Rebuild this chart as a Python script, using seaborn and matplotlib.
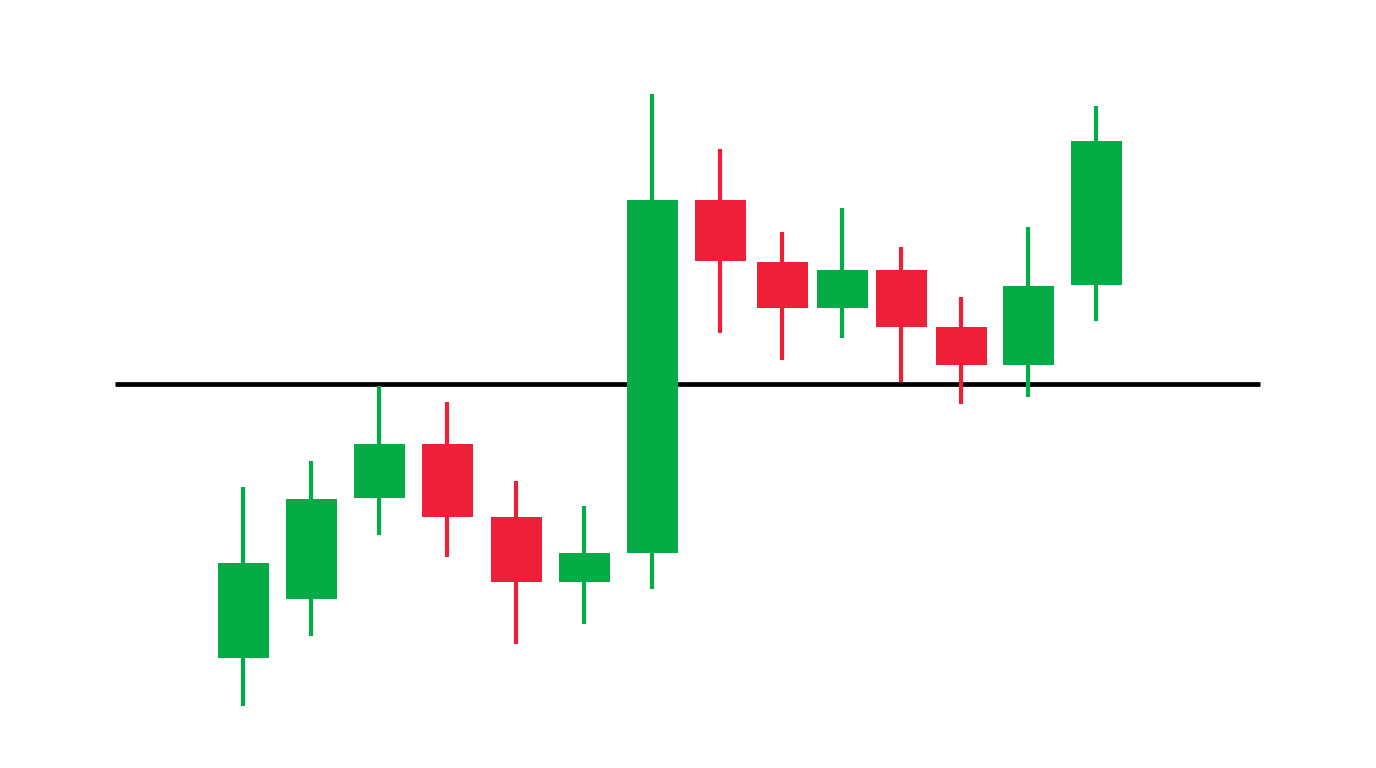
import matplotlib
matplotlib.use("Agg")
import matplotlib.pyplot as plt
import seaborn as sns
import pandas as pd

# Candle data (arbitrary price units, time slots)
slots = [243, 311, 379, 447, 516, 584, 652, 720, 782, 842, 901, 961, 1028, 1096]
opens = [110, 169, 270, 324, 251, 186, 215, 568, 506, 460, 498, 441, 403, 483]
closes = [205, 269, 324, 251, 186, 215, 568, 507, 460, 498, 441, 403, 482, 627]
highs = [281, 307, 382, 366, 287, 262, 674, 619, 536, 560, 521, 471, 541, 662]
lows = [62, 132, 233, 211, 124, 144, 179, 435, 408, 430, 386, 364, 371, 447]
level = 384.5
level_span = [115, 1260]

GREEN = "#05AC45"
RED = "#EE2039"

df = pd.DataFrame({"t": slots, "open": opens, "close": closes, "high": highs, "low": lows})
df["up"] = df["close"] >= df["open"]
df["color"] = df["up"].map({True: GREEN, False: RED})

sns.set_theme(style="white")
fig = plt.figure(figsize=(13.76, 7.68), dpi=100)
ax = fig.add_axes([0, 0, 1, 1])

# level line
line_df = pd.DataFrame({"x": level_span, "y": [level, level]})
sns.lineplot(data=line_df, x="x", y="y", ax=ax, color="black", linewidth=3.4,
             solid_capstyle="butt", zorder=1)

# wicks
ax.vlines(df["t"], df["low"], df["high"], colors=df["color"], linewidth=3.0,
          capstyle="butt", zorder=2)

# bodies
bottoms = df[["open", "close"]].min(axis=1)
heights = (df["close"] - df["open"]).abs()
ax.bar(df["t"], heights, bottom=bottoms, width=51, color=df["color"], edgecolor="none", zorder=3)

ax.set_xlim(0, 1376)
ax.set_ylim(0, 768)
ax.axis("off")
fig.savefig("out.png", dpi=100, facecolor="white")
